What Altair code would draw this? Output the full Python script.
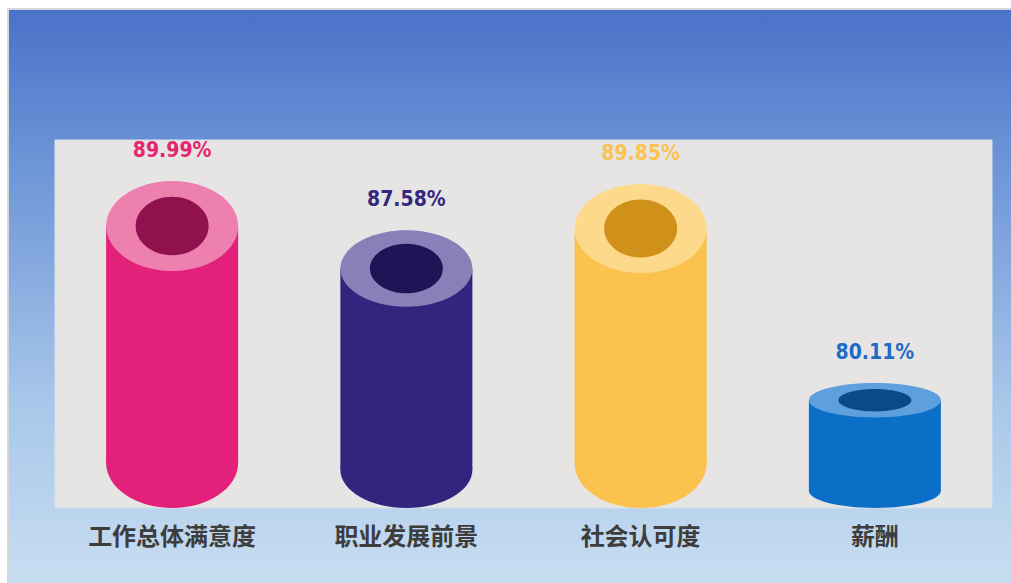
import altair as alt
import pandas as pd

categories = ["工作总体满意度", "职业发展前景", "社会认可度", "薪酬"]
values = [89.99, 87.58, 89.85, 80.11]
side_colors = ["#e3207a", "#33247f", "#fbc34e", "#0b6fc8"]
ring_colors = ["#ee80b0", "#8a7fb8", "#fdd98c", "#5ea0dd"]
hole_colors = ["#8f114d", "#1f1556", "#cf9119", "#0b4a8a"]
label_colors = ["#e5266f", "#34297f", "#fbc34f", "#1f6cc8"]

Y_MIN, Y_MAX = 74, 92
W, H = 937, 368
RX = 66                      # cylinder half width in px
ELL = 0.1375                 # ellipse half-height as share of cylinder height
px_per_unit = H / (Y_MAX - Y_MIN)


def ellipse(rx, ry):
    return (f"M{-rx:.4f},0A{rx:.4f},{ry:.4f} 0 1,1 {rx:.4f},0"
            f"A{rx:.4f},{ry:.4f} 0 1,1 {-rx:.4f},0Z")


rows = []
for c, v, sc, rc, hc, lc in zip(categories, values, side_colors, ring_colors,
                                hole_colors, label_colors):
    ry_units = ELL * (v - Y_MIN)
    k = ry_units * px_per_unit / RX
    rows.append({
        "cat": c, "value": v, "label": f"{v:.2f}%",
        "top": v - ry_units, "bottom": Y_MIN + ry_units,
        "side": sc, "ring": rc, "hole": hc, "lab": lc,
        "outer": ellipse(1, k), "inner": ellipse(0.553, 0.65 * k),
    })
df = pd.DataFrame(rows)

xenc = alt.X("cat:N", sort=categories,
             scale=alt.Scale(paddingInner=0, paddingOuter=0),
             axis=alt.Axis(title=None, domain=False, ticks=False, zindex=2,
                           labelAngle=0, labelFont="Noto Sans CJK SC",
                           labelFontWeight="bold", labelFontSize=24,
                           labelColor="#3d3d3d", labelPadding=17))
yscale = alt.Scale(domain=[Y_MIN, Y_MAX], zero=False, nice=False)
yaxis = None

one = pd.DataFrame({"a": [0]})
frame = alt.Chart(one).mark_rect(color="#d3d7dc").encode(
    x=alt.value(-48), x2=alt.value(956), y=alt.value(-132), y2=alt.value(443))
grad = alt.Chart(one).mark_rect(
    color=alt.Gradient(gradient="linear", x1=0, x2=0, y1=0, y2=1,
                       stops=[alt.GradientStop(color="#4a72c8", offset=0),
                              alt.GradientStop(color="#6890d5", offset=0.23),
                              alt.GradientStop(color="#a9c8ea", offset=0.7),
                              alt.GradientStop(color="#c8ddf1", offset=1)])
).encode(x=alt.value(-46), x2=alt.value(956), y=alt.value(-130), y2=alt.value(443))
plot_bg = alt.Chart(one).mark_rect(color="#e6e5e4", stroke="#d6e1ee", strokeWidth=1).encode(
    x=alt.value(0), x2=alt.value(W), y=alt.value(0), y2=alt.value(H))

base = alt.Chart(df)
side = base.mark_bar(size=2 * RX).encode(
    x=xenc,
    y=alt.Y("top:Q", scale=yscale, axis=yaxis),
    y2="bottom:Q",
    color=alt.Color("side:N", scale=None))


def ell_layer(yfield, shapefield, colorfield):
    return base.mark_point(filled=True, opacity=1, strokeWidth=0).encode(
        x=xenc,
        y=alt.Y(f"{yfield}:Q", scale=yscale, axis=yaxis),
        shape=alt.Shape(f"{shapefield}:N", scale=None),
        size=alt.value((2 * RX) ** 2),
        fill=alt.Fill(f"{colorfield}:N", scale=None))


bottom_ell = ell_layer("bottom", "outer", "side")
top_ell = ell_layer("top", "outer", "ring")
hole_ell = ell_layer("top", "inner", "hole")

labels = base.mark_text(font="DejaVu Sans Condensed", fontWeight="bold",
                        fontSize=21, baseline="alphabetic", dy=-24).encode(
    x=xenc,
    y=alt.Y("value:Q", scale=yscale, axis=yaxis),
    text="label:N",
    color=alt.Color("lab:N", scale=None))

chart = alt.layer(frame, grad, plot_bg, side, bottom_ell, top_ell, hole_ell, labels).properties(
    width=W, height=H,
    autosize=alt.AutoSizeParams(type="none"),
    padding={"left": 55, "top": 140, "right": 19, "bottom": 75},
    background="white",
).configure_view(stroke=None)

chart.save("out.html", embed_options={"renderer": "svg", "actions": False})
